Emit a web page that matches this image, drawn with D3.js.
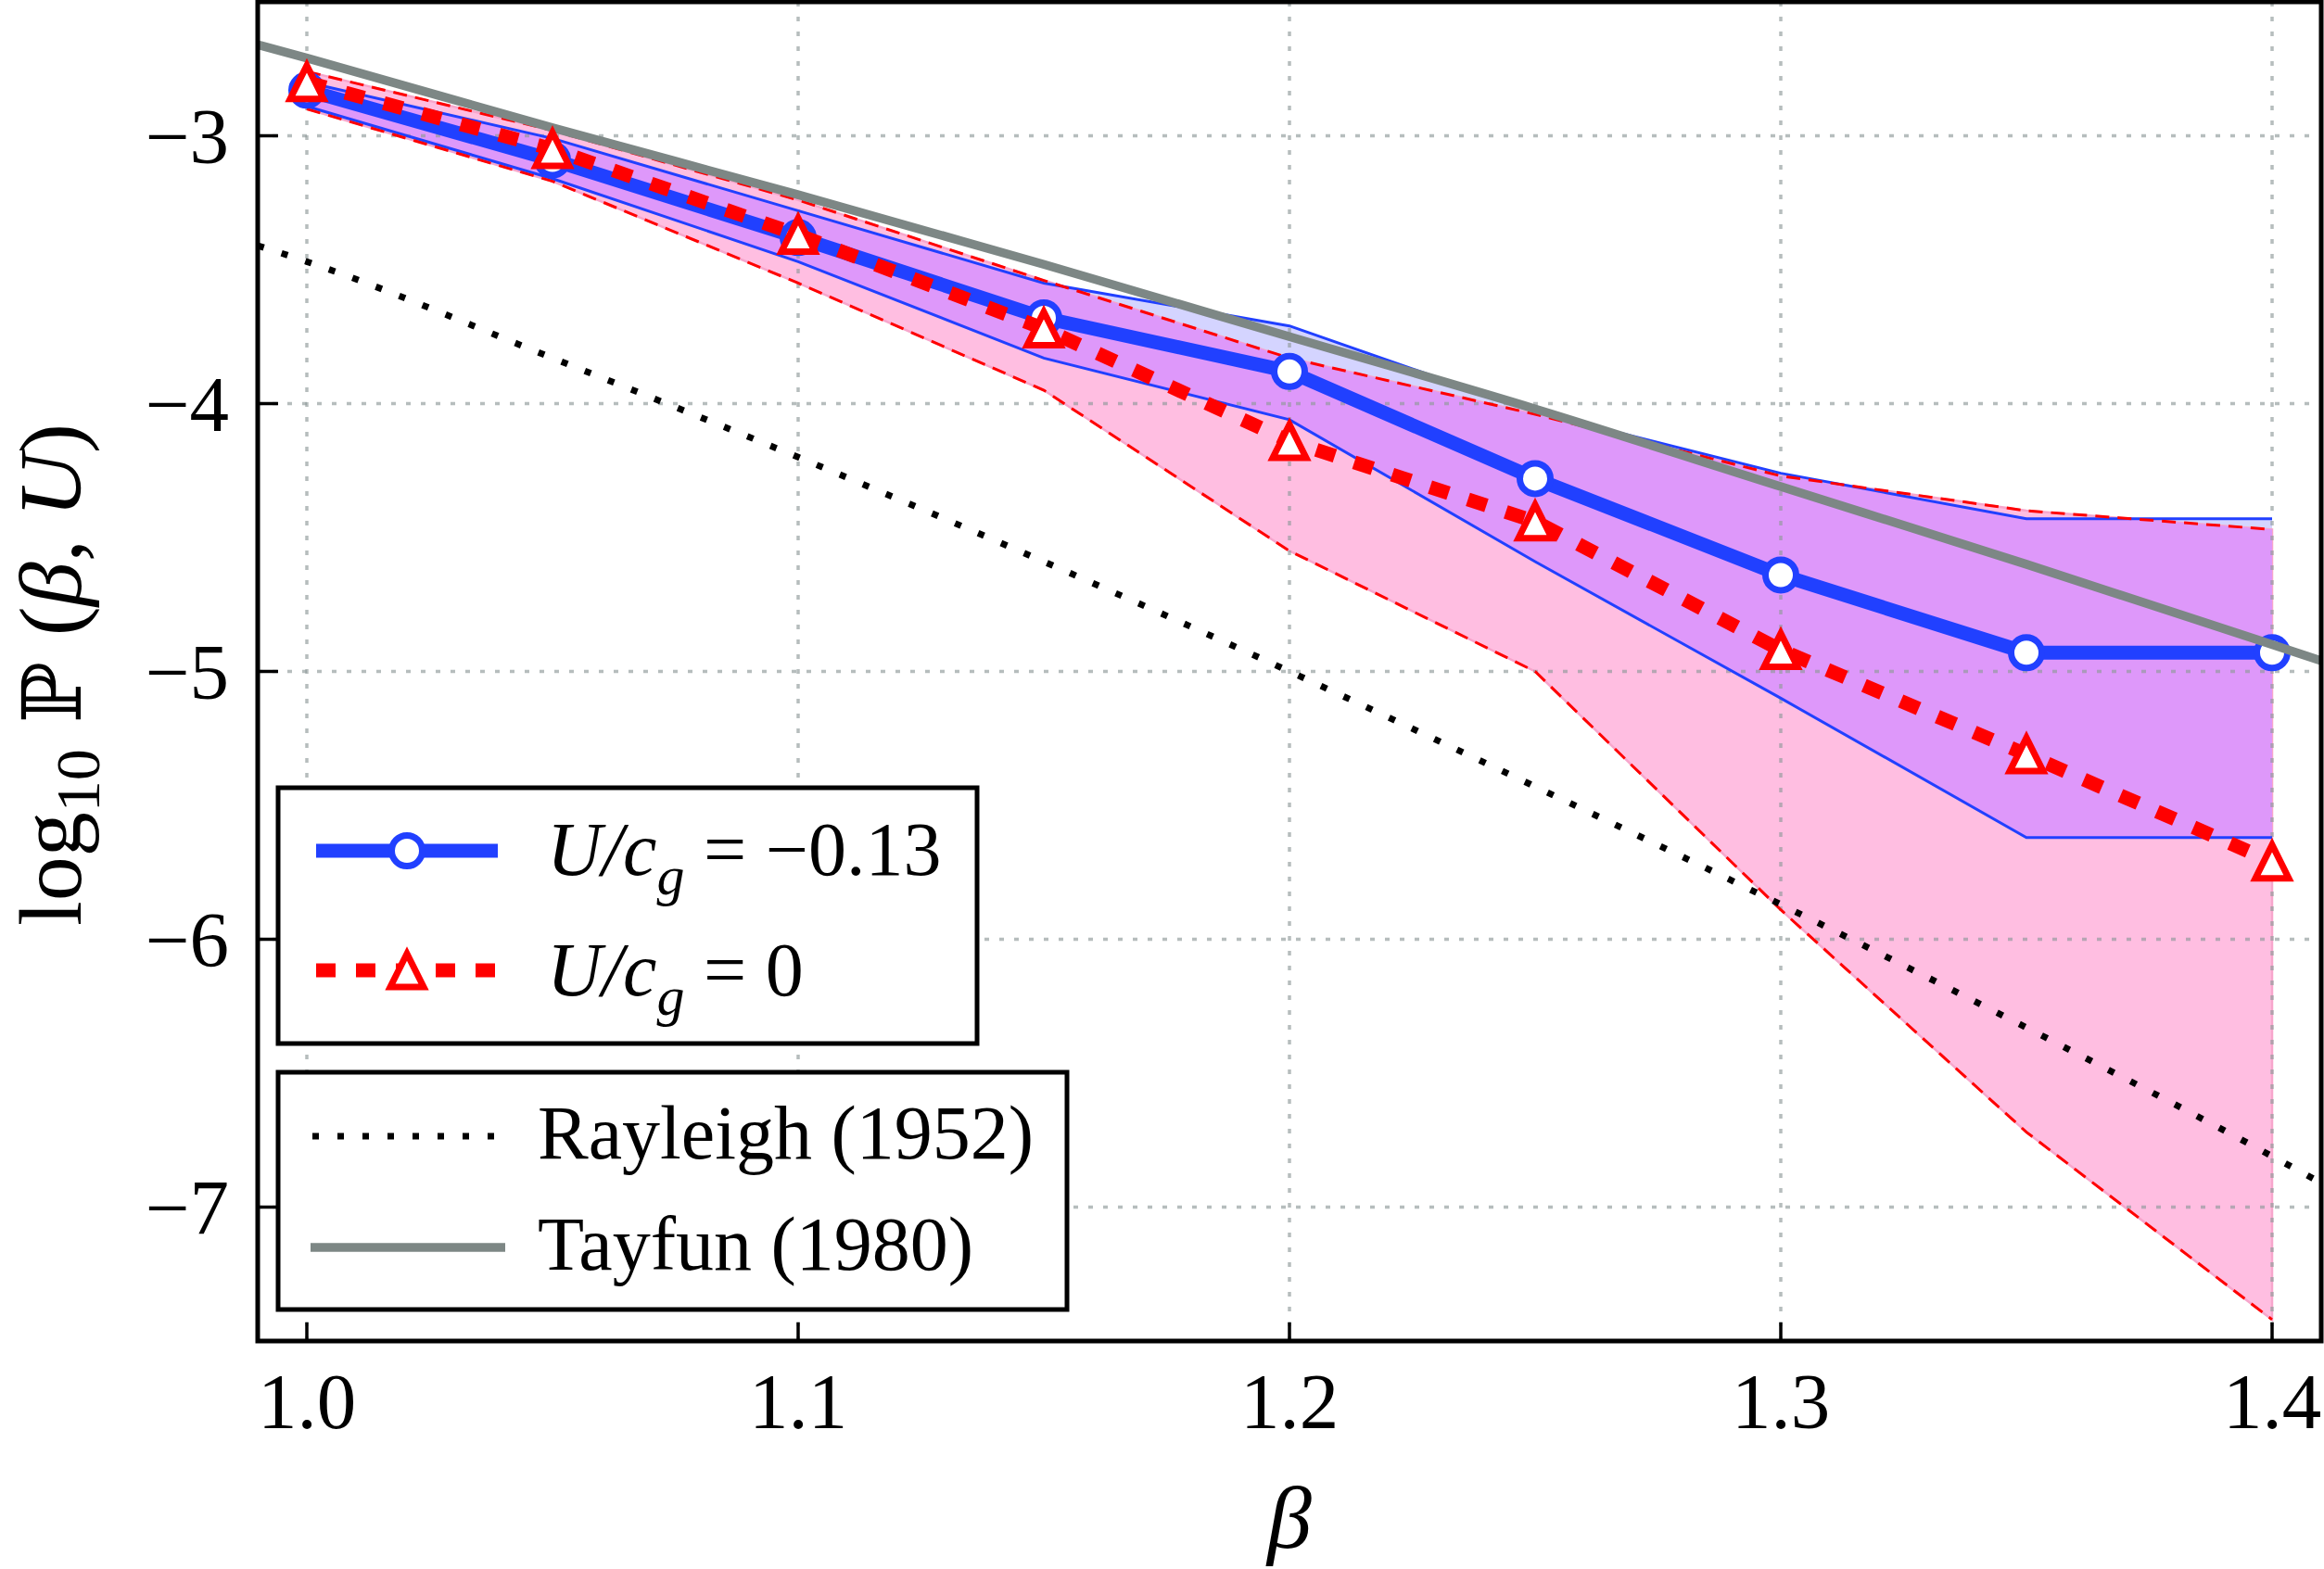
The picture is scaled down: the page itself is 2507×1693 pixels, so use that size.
<!DOCTYPE html>
<html>
<head>
<meta charset="utf-8">
<script src="https://cdn.jsdelivr.net/npm/d3@7"></script>
<style>
  body { margin: 0; background: #fff; }
  text { font-family: "Liberation Serif", "DejaVu Serif", serif; fill: #000; }
</style>
</head>
<body>
<script>
var W = 2507, H = 1693;
var M = { left: 278, right: 2504, top: 2, bottom: 1447 };

// beta values of the simulations
var beta = [1.0, 1.05, 1.1, 1.15, 1.2, 1.25, 1.3, 1.35, 1.4];
// U/cg = -0.13
var negMean  = [-2.83, -3.09, -3.38, -3.68, -3.88, -4.28, -4.64, -4.93, -4.93];
var negUpper = [-2.80, -3.01, -3.28, -3.55, -3.71, -4.03, -4.26, -4.43, -4.43];
var negLower = [-2.89, -3.16, -3.47, -3.83, -4.06, -4.59, -5.10, -5.62, -5.62];
// U/cg = 0
var zeroMean  = [-2.80, -3.05, -3.37, -3.72, -4.14, -4.44, -4.92, -5.31, -5.71];
var zeroUpper = [-2.76, -2.98, -3.24, -3.54, -3.83, -4.04, -4.27, -4.40, -4.47];
var zeroLower = [-2.90, -3.17, -3.55, -3.95, -4.55, -5.00, -5.89, -6.72, -7.42];
// reference curves
var refBeta  = [0.99, 1.0, 1.05, 1.1, 1.15, 1.2, 1.25, 1.3, 1.35, 1.4, 1.41];
var rayleigh = [-3.41, -3.47, -3.83, -4.20, -4.59, -5.00, -5.43, -5.87, -6.33, -6.81, -6.91];
var tayfun   = [-2.66, -2.71, -2.97, -3.22, -3.48, -3.75, -4.02, -4.31, -4.60, -4.90, -4.96];

var xTicks = [1.0, 1.1, 1.2, 1.3, 1.4];
var yTicks = [-7, -6, -5, -4, -3];

var BLUE = "#2140ff", RED = "#ff0000", GREY = "#7d8785";

var x = d3.scaleLinear().domain([0.99, 1.41]).range([M.left, M.right]);
var y = d3.scaleLinear().domain([-7.5, -2.5]).range([M.bottom, M.top]);

var svg = d3.select("body").append("svg")
  .attr("width", W).attr("height", H);
svg.append("rect").attr("width", W).attr("height", H).attr("fill", "#fff");

var defs = svg.append("defs");
defs.append("clipPath").attr("id", "plot")
  .append("rect").attr("x", M.left).attr("y", M.top)
  .attr("width", M.right - M.left).attr("height", M.bottom - M.top);

var band = function(lo, hi) {
  return beta.map(function(b, i) { return { b: b, lo: lo[i], hi: hi[i] }; });
};
var negBand = band(negLower, negUpper);
var zeroBand = band(zeroLower, zeroUpper);

var area = d3.area()
  .x(function(d) { return x(d.b); })
  .y0(function(d) { return y(d.lo); })
  .y1(function(d) { return y(d.hi); });

defs.append("clipPath").attr("id", "zeroClip")
  .append("path").attr("d", area(zeroBand));

var g = svg.append("g").attr("clip-path", "url(#plot)");

// bands: lavender alone, pink alone, purple where they overlap
g.append("path").attr("d", area(negBand)).attr("fill", "#d4d4ff");
g.append("path").attr("d", area(zeroBand)).attr("fill", "#ffbee1")
  .attr("stroke", "#f7a6cc").attr("stroke-width", 2.5);
g.append("path").attr("d", area(negBand)).attr("fill", "#de98fa")
  .attr("clip-path", "url(#zeroClip)");

// grid
var grid = g.append("g").attr("stroke", "#8f9a9a").attr("stroke-opacity", 0.65)
  .attr("stroke-width", 3.5).attr("stroke-dasharray", "5,11");
xTicks.forEach(function(t) {
  grid.append("line").attr("x1", x(t)).attr("x2", x(t))
    .attr("y1", M.top).attr("y2", M.bottom);
});
yTicks.forEach(function(t) {
  grid.append("line").attr("x1", M.left).attr("x2", M.right)
    .attr("y1", y(t)).attr("y2", y(t));
});

var line = function(ys) {
  return d3.line()
    .x(function(d, i) { return x(beta[i]); })
    .y(function(d) { return y(d); })(ys);
};
var smooth = function(ys) {
  return d3.line().curve(d3.curveMonotoneX)
    .x(function(d, i) { return x(refBeta[i]); })
    .y(function(d) { return y(d); })(ys);
};

// band edges
[negUpper, negLower].forEach(function(s) {
  g.append("path").attr("d", line(s)).attr("fill", "none")
    .attr("stroke", BLUE).attr("stroke-width", 3);
});
[zeroUpper, zeroLower].forEach(function(s) {
  g.append("path").attr("d", line(s)).attr("fill", "none")
    .attr("stroke", RED).attr("stroke-width", 3).attr("stroke-dasharray", "15,9");
});

// Rayleigh
g.append("path").attr("d", smooth(rayleigh)).attr("fill", "none")
  .attr("stroke", "#000").attr("stroke-width", 7).attr("stroke-dasharray", "7,20");

// U/cg = -0.13
g.append("path").attr("d", line(negMean)).attr("fill", "none")
  .attr("stroke", BLUE).attr("stroke-width", 15).attr("stroke-linejoin", "round");
g.selectAll(".circ").data(negMean).enter().append("circle")
  .attr("cx", function(d, i) { return x(beta[i]); })
  .attr("cy", function(d) { return y(d); })
  .attr("r", 16.5).attr("fill", "#fff").attr("stroke", BLUE).attr("stroke-width", 7);

// Tayfun
g.append("path").attr("d", smooth(tayfun)).attr("fill", "none")
  .attr("stroke", GREY).attr("stroke-width", 9.5);

// U/cg = 0
var tri = function(s) { return "M0," + (-s) + "L" + s + "," + s + "L" + (-s) + "," + s + "Z"; };
g.append("path").attr("d", line(zeroMean)).attr("fill", "none")
  .attr("stroke", RED).attr("stroke-width", 15).attr("stroke-dasharray", "21,22");
g.selectAll(".tri").data(zeroMean).enter().append("path")
  .attr("d", tri(18))
  .attr("transform", function(d, i) { return "translate(" + x(beta[i]) + "," + y(d) + ")"; })
  .attr("fill", "#fff").attr("stroke", RED).attr("stroke-width", 7)
  .attr("stroke-linejoin", "miter");

// frame and ticks
svg.append("rect").attr("x", M.left).attr("y", M.top)
  .attr("width", M.right - M.left).attr("height", M.bottom - M.top)
  .attr("fill", "none").attr("stroke", "#000").attr("stroke-width", 5);

xTicks.forEach(function(t) {
  svg.append("line").attr("x1", x(t)).attr("x2", x(t))
    .attr("y1", M.bottom).attr("y2", M.bottom - 20)
    .attr("stroke", "#000").attr("stroke-width", 3.5);
  svg.append("text").attr("x", x(t)).attr("y", 1541)
    .attr("text-anchor", "middle").attr("font-size", 85)
    .text(d3.format(".1f")(t));
});
yTicks.forEach(function(t) {
  svg.append("line").attr("x1", M.left).attr("x2", M.left + 22)
    .attr("y1", y(t)).attr("y2", y(t))
    .attr("stroke", "#000").attr("stroke-width", 3.5);
  svg.append("text").attr("x", 247).attr("y", y(t) + 29)
    .attr("text-anchor", "end").attr("font-size", 85)
    .text("\u2212" + Math.abs(t));
});

// axis labels
svg.append("text").attr("x", (M.left + M.right) / 2).attr("y", 1670)
  .attr("text-anchor", "middle").attr("font-size", 96)
  .attr("font-style", "italic").text("\u03b2");

var yl = svg.append("text").attr("transform", "translate(87,728) rotate(-90)")
  .attr("text-anchor", "middle").attr("font-size", 96);
yl.append("tspan").text("log");
yl.append("tspan").attr("font-size", 68).attr("dy", 20).text("10");
yl.append("tspan").attr("dy", -20).attr("font-family", "DejaVu Serif").attr("font-size", 88).text(" \u2119 ");
yl.append("tspan").text("(");
yl.append("tspan").attr("font-style", "italic").text("\u03b2");
yl.append("tspan").text(", ");
yl.append("tspan").attr("font-style", "italic").text("U");
yl.append("tspan").text(")");

// legends
var leg1 = svg.append("g");
leg1.append("rect").attr("x", 300).attr("y", 850).attr("width", 754).attr("height", 276)
  .attr("fill", "#fff").attr("stroke", "#000").attr("stroke-width", 5);
leg1.append("line").attr("x1", 341).attr("x2", 537).attr("y1", 918).attr("y2", 918)
  .attr("stroke", BLUE).attr("stroke-width", 15);
leg1.append("circle").attr("cx", 439).attr("cy", 918).attr("r", 16.5)
  .attr("fill", "#fff").attr("stroke", BLUE).attr("stroke-width", 7);
leg1.append("line").attr("x1", 341).attr("x2", 537).attr("y1", 1047).attr("y2", 1047)
  .attr("stroke", RED).attr("stroke-width", 15).attr("stroke-dasharray", "21,22");
leg1.append("path").attr("d", tri(18)).attr("transform", "translate(439,1047)")
  .attr("fill", "#fff").attr("stroke", RED).attr("stroke-width", 7);

var mathLabel = function(parent, yy, val) {
  var t = parent.append("text").attr("x", 590).attr("y", yy).attr("font-size", 82);
  t.append("tspan").attr("font-style", "italic").text("U");
  t.append("tspan").attr("font-style", "italic").text("/c");
  t.append("tspan").attr("font-style", "italic").attr("font-size", 60).attr("dy", 21).text("g");
  t.append("tspan").attr("dy", -21).text(" = " + val);
};
mathLabel(leg1, 944, "\u22120.13");
mathLabel(leg1, 1074, "0");

var leg2 = svg.append("g");
leg2.append("rect").attr("x", 300).attr("y", 1157).attr("width", 851).attr("height", 256)
  .attr("fill", "#fff").attr("stroke", "#000").attr("stroke-width", 5);
leg2.append("line").attr("x1", 337).attr("x2", 541).attr("y1", 1226).attr("y2", 1226)
  .attr("stroke", "#000").attr("stroke-width", 7).attr("stroke-dasharray", "7,20");
leg2.append("line").attr("x1", 335).attr("x2", 545).attr("y1", 1346).attr("y2", 1346)
  .attr("stroke", GREY).attr("stroke-width", 9.5);
leg2.append("text").attr("x", 580).attr("y", 1250).attr("font-size", 82).text("Rayleigh (1952)");
leg2.append("text").attr("x", 580).attr("y", 1370).attr("font-size", 82).text("Tayfun (1980)");
</script>
</body>
</html>
